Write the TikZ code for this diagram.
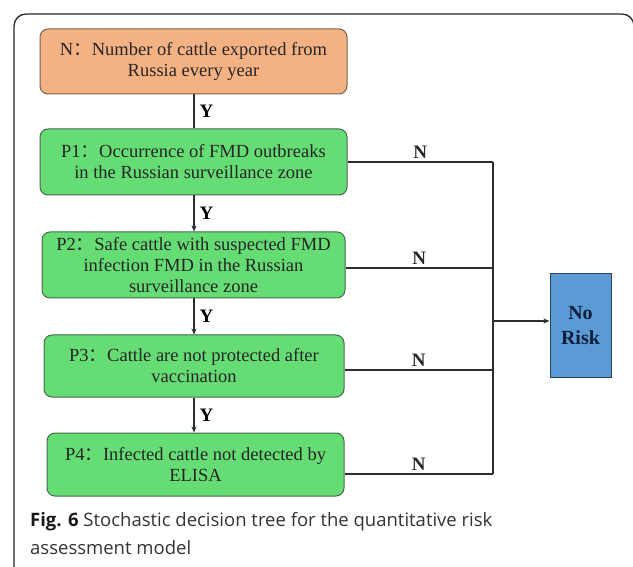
\documentclass[tikz,border=0pt]{standalone}
\usepackage{fontspec}
\setmainfont{Liberation Serif}
\newfontfamily\cjk{Noto Sans CJK SC}
\newfontfamily\capfont{Open Sans}
\usetikzlibrary{arrows.meta}
\definecolor{orfill}{RGB}{244,177,131}
\definecolor{orline}{RGB}{120,95,75}
\definecolor{grfill}{RGB}{102,220,117}
\definecolor{grline}{RGB}{70,105,75}
\definecolor{blfill}{RGB}{91,155,213}
\definecolor{blline}{RGB}{45,65,95}
\definecolor{navy}{RGB}{15,30,60}
\definecolor{linec}{RGB}{45,45,45}
\begin{document}
\begin{tikzpicture}[x=1pt,y=-1pt,
  box/.style={draw, rounded corners=8pt, line width=1pt, align=center, inner sep=0pt,
    font=\fontsize{18.5}{21}\selectfont, text=black!85},
  orbox/.style={box, fill=orfill, draw=orline},
  grbox/.style={box, fill=grfill, draw=grline},
  conn/.style={draw=linec, line width=1.3pt},
  arr/.style={conn, -{Stealth[length=6pt,width=5pt]}},
  ylab/.style={font=\fontsize{19}{19}\selectfont\bfseries, text=black, right, inner sep=5pt},
  nlab/.style={font=\fontsize{19}{19}\selectfont\bfseries, text=black!85, above, inner sep=3pt},
]
\useasboundingbox (0,0) rectangle (633,567);
\clip (0,0) rectangle (633,567);
% outer frame
\draw[line width=1.3pt, draw=black!85, rounded corners=12pt] (14,600) -- (14,14) -- (634,14) -- (634,600);

\node[orbox, minimum width=307pt, minimum height=65pt] (n) at (193.5,61.5)
  {N{\cjk ：}Number of cattle exported from\\Russia every year};
\node[grbox, minimum width=307pt, minimum height=66pt] (p1) at (193.5,162)
  {P1{\cjk ：}Occurrence of FMD outbreaks\\in the Russian surveillance zone};
\node[grbox, minimum width=303pt, minimum height=66pt] (p2) at (193.5,265)
  {P2{\cjk ：}Safe cattle with suspected FMD\\infection FMD in the Russian\\surveillance zone};
\node[grbox, minimum width=300pt, minimum height=62pt] (p3) at (194,366)
  {P3{\cjk ：}Cattle are not protected after\\vaccination};
\node[grbox, minimum width=297pt, minimum height=63pt] (p4) at (195.5,464.5)
  {P4{\cjk ：}Infected cattle not detected by\\ELISA};
\node[draw=blline, fill=blfill, line width=1pt, minimum width=61pt, minimum height=104pt,
  align=center, inner sep=0pt, text=navy, font=\fontsize{20}{25}\selectfont\bfseries]
  (risk) at (580.5,326) {No\\Risk};

\coordinate (j1) at (493,162);
\coordinate (j2) at (493,268);
\coordinate (j3) at (493,370);
\coordinate (j4) at (493,474);
\coordinate (jm) at (493,321);

\path[conn] (n.south -| 194,0) -- node[ylab] {Y} (p1.north -| 194,0);
\path[arr] (p1.south -| 194,0) -- node[ylab] {Y} (p2.north -| 194,0);
\path[arr] (p2.south -| 194,0) -- node[ylab] {Y} (p3.north -| 194,0);
\path[arr] (p3.south -| 194,0) -- node[ylab] {Y} (p4.north -| 194,0);

\path[conn] (p1.east |- j1) -- node[nlab] {N} (j1);
\path[conn] (p2.east |- j2) -- node[nlab] {N} (j2);
\path[conn] (p3.east |- j3) -- node[nlab] {N} (j3);
\path[conn] (p4.east |- j4) -- node[nlab] {N} (j4);
\path[conn] (j1) -- (j4);
\path[arr] (jm) -- (jm -| risk.west);

\node[anchor=north west, inner sep=0pt, align=left, text=black!80,
  font=\capfont\fontsize{18.5}{28}\selectfont] (cap) at (30,512)
  {{\bfseries\color{black!90}Fig. 6} Stochastic decision tree for the quantitative risk\\assessment model};
\end{tikzpicture}
\end{document}
